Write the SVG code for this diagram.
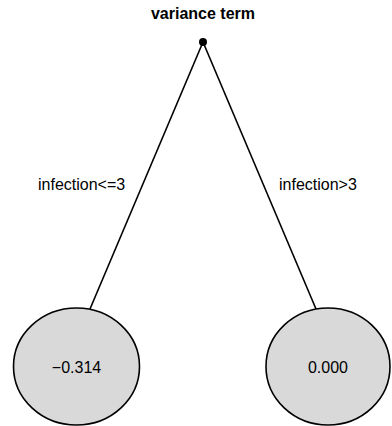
<svg xmlns="http://www.w3.org/2000/svg" width="392" height="426" viewBox="0 0 392 426">
<style>
text{font-family:"Liberation Sans",Arial,sans-serif;font-size:16px;fill:#000}
.edge{stroke:#000;stroke-width:1.6;fill:none}
.leaf{fill:#d9d9d9;stroke:#000;stroke-width:1.6}
</style>
<rect width="392" height="426" fill="#fff"/>
<g id="connectors">
<line class="edge" x1="203" y1="42" x2="90" y2="309"/>
<line class="edge" x1="203" y1="42" x2="316" y2="309"/>
<text x="38" y="190">infection&lt;=3</text>
<text x="279" y="190">infection&gt;3</text>
</g>
<g id="root">
<text x="203" y="19" text-anchor="middle" font-weight="bold">variance term</text>
<circle cx="203" cy="42" r="4" fill="#000"/>
</g>
<g id="leaf-left">
<ellipse class="leaf" cx="76.5" cy="366.5" rx="63" ry="58.5"/>
<text x="76.5" y="373" text-anchor="middle">−0.314</text>
</g>
<g id="leaf-right">
<ellipse class="leaf" cx="328" cy="366.5" rx="62" ry="58.5"/>
<text x="328" y="373" text-anchor="middle">0.000</text>
</g>
</svg>
